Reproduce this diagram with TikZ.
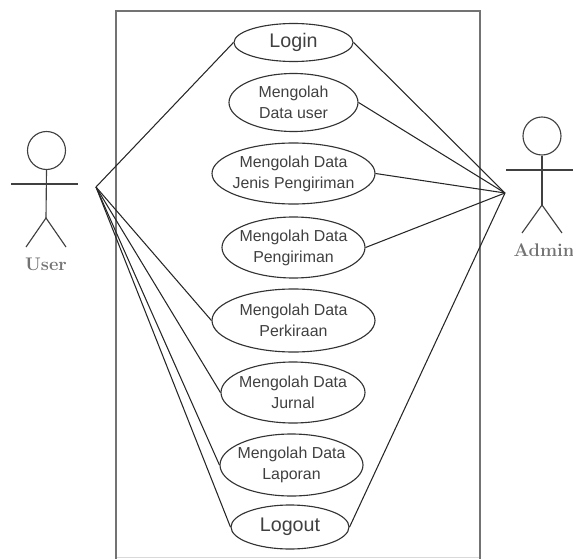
\documentclass[tikz,border=0pt]{standalone}
\usepackage{fontspec}
\setsansfont{Liberation Sans}
\usetikzlibrary{shapes}
\tikzset{
         usecase/.style={shape=ellipse,draw=black!80,line width=.8pt,inner sep=-12pt,align=center,text=black!75,font=\sffamily\fontsize{11.3}{14.8}\selectfont},
         bigcase/.style={usecase,font=\sffamily\fontsize{14}{17}\selectfont},
         limb/.style={draw=black!75,line width=.8pt},
         actorname/.style={text=black!55,font=\bfseries\fontsize{13}{15}\selectfont},
         assoc/.style={draw=black!85,line width=.75pt}
        }
\begin{document}
\begin{tikzpicture}[x=.025cm,y=-.025cm]
\useasboundingbox(0,0)rectangle(573,559);
%system frame
\draw[black!15,line width=.7pt](116,557)--(480,557);
\draw[black!55,line width=1.7pt](116,559)--(116,11)--(480,11)--(480,559);
%use cases
\node[bigcase,minimum width=119*.025cm,minimum height=38*.025cm] (login) at(293.5,42.5){Login};
\node[usecase,minimum width=129*.025cm,minimum height=58*.025cm] (datauser) at(293.5,102.5){Mengolah\\Data user};
\node[usecase,minimum width=163*.025cm,minimum height=61*.025cm] (jenis) at(293.5,173.5){Mengolah Data\\Jenis Pengiriman};
\node[usecase,minimum width=143*.025cm,minimum height=61*.025cm] (pengiriman) at(293.5,247.5){Mengolah Data\\Pengiriman};
\node[usecase,minimum width=163*.025cm,minimum height=63*.025cm] (perkiraan) at(293.5,320.5){Mengolah Data\\Perkiraan};
\node[usecase,minimum width=144*.025cm,minimum height=61*.025cm] (jurnal) at(293,392.5){Mengolah Data\\Jurnal};
\node[usecase,minimum width=143*.025cm,minimum height=62*.025cm] (laporan) at(291.5,465){Mengolah Data\\Laporan};
\node[bigcase,minimum width=118*.025cm,minimum height=44*.025cm] (logout) at(290,527){Logout};
%user actor
\node[circle,limb,minimum size=38*.025cm,inner sep=0pt] (userhead) at(46.5,150.5){};
\coordinate (userhip) at(46,218);
\coordinate (userarml) at(11,184);
\coordinate (userarmr) at(78,184);
\coordinate (userlegl) at(26,247);
\coordinate (userlegr) at(66,247);
\draw[limb](userhead.south)--(userhip);
\draw[limb](userarml)--(userarmr);
\draw[limb](userlegl)--(userhip)--(userlegr);
\node[actorname] (username) at(46,264){User};
\coordinate (userhub) at(96,187);
%admin actor
\node[circle,limb,minimum size=38*.025cm,inner sep=0pt] (adminhead) at(542,136){};
\coordinate (adminhip) at(542,205);
\coordinate (adminarml) at(506,170);
\coordinate (adminarmr) at(573,170);
\coordinate (adminlegl) at(522,233);
\coordinate (adminlegr) at(562,233);
\draw[limb](adminhead.south)--(adminhip);
\draw[limb](adminarml)--(adminarmr);
\draw[limb](adminlegl)--(adminhip)--(adminlegr);
\node[actorname] (adminname) at(544,250){Admin};
\coordinate (adminhub) at(505,193);
%associations
\draw[assoc](userhub)--(login.west);
\draw[assoc](userhub)--(perkiraan.west);
\draw[assoc](userhub)--(jurnal.west);
\draw[assoc](userhub)--(laporan.west);
\draw[assoc](userhub)--(logout.west);
\draw[assoc](adminhub)--(login.east);
\draw[assoc](adminhub)--(datauser.east);
\draw[assoc](adminhub)--(jenis.east);
\draw[assoc](adminhub)--(pengiriman.east);
\draw[assoc](adminhub)--(logout.east);
\end{tikzpicture}
\end{document}
